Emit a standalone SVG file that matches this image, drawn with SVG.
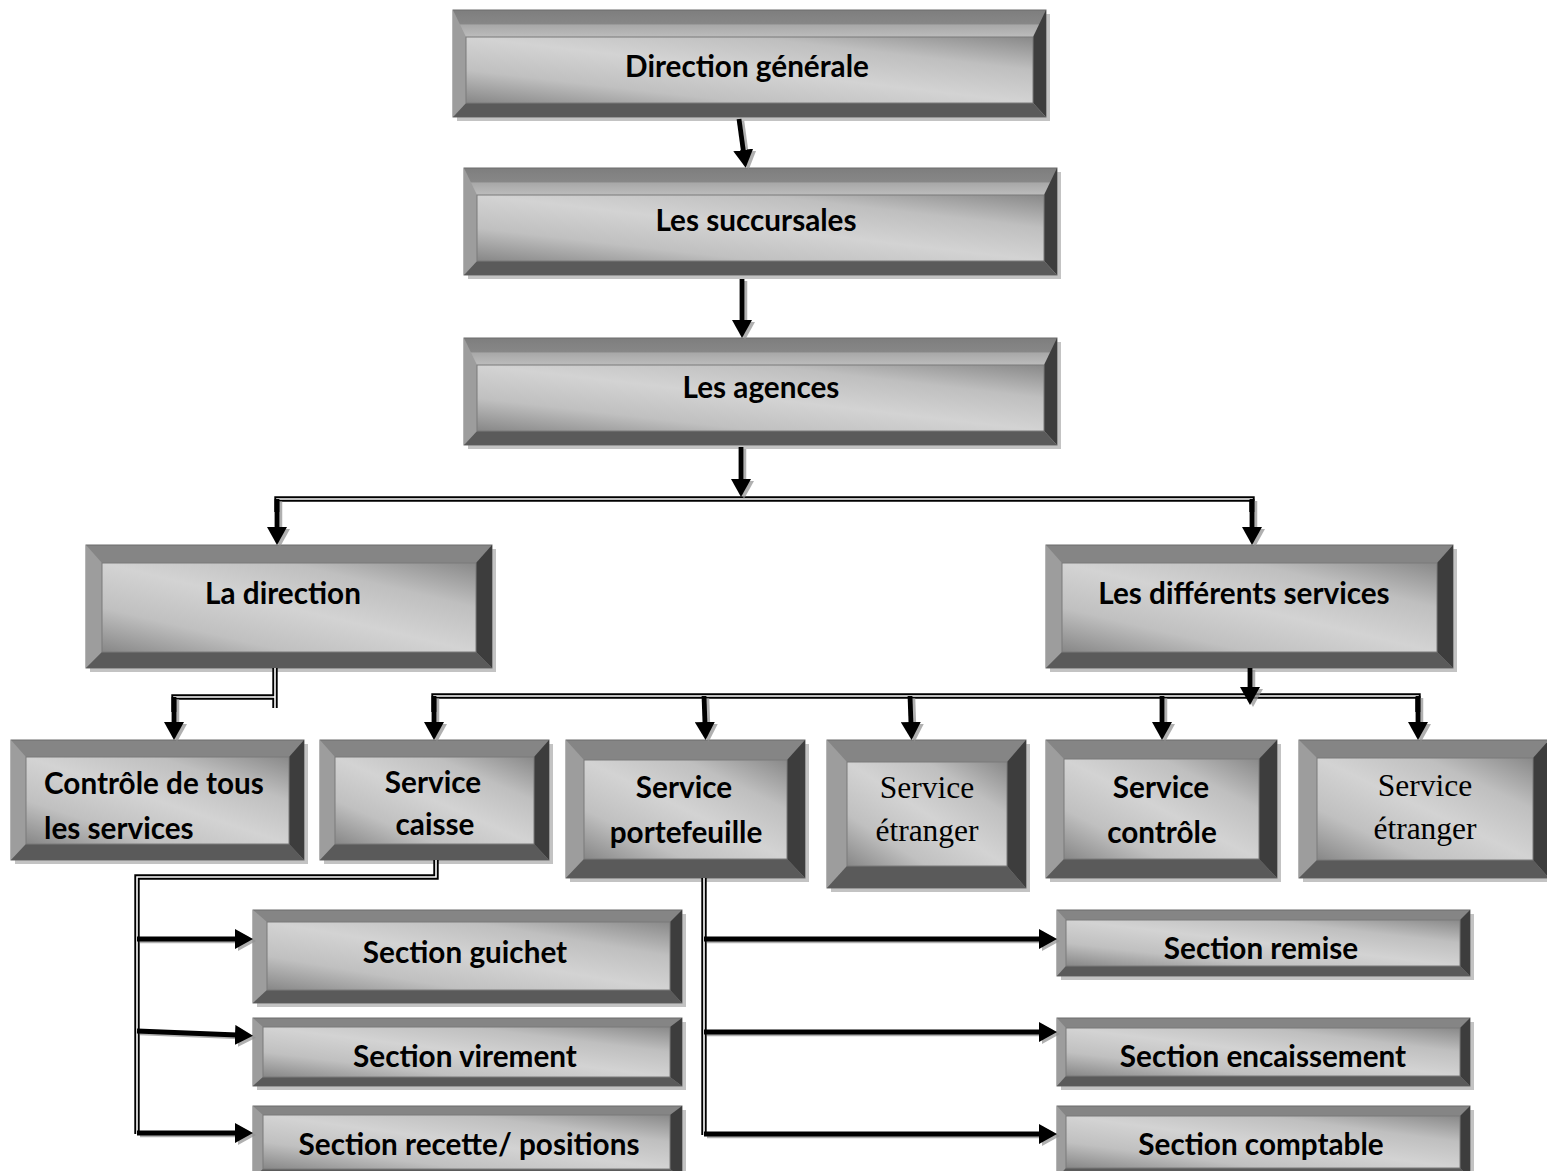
<svg xmlns="http://www.w3.org/2000/svg" xmlns:xlink="http://www.w3.org/1999/xlink" width="1547" height="1171" viewBox="0 0 1547 1171">
  <defs>
    <!-- face shading: dark at bottom-left and top-right corners, light across the middle -->
    <linearGradient id="faceGrad" x1="0" y1="1" x2="1" y2="0">
      <stop offset="0" stop-color="#878787"/>
      <stop offset="0.25" stop-color="#c0c0c0"/>
      <stop offset="0.5" stop-color="#d3d3d3"/>
      <stop offset="0.75" stop-color="#bfbfbf"/>
      <stop offset="1" stop-color="#898989"/>
    </linearGradient>
    <!-- top bevel with a lighter inner strip (tall header boxes) -->
    <linearGradient id="topGrad" x1="0" y1="0" x2="0" y2="1">
      <stop offset="0" stop-color="#7e7e7e"/>
      <stop offset="0.13" stop-color="#878787"/>
      <stop offset="0.14" stop-color="#a8a8a8"/>
      <stop offset="0.25" stop-color="#bcbcbc"/>
      <stop offset="1" stop-color="#bcbcbc"/>
    </linearGradient>
    <marker id="head" markerUnits="userSpaceOnUse" viewBox="0 0 18 20" markerWidth="18" markerHeight="20" refX="2" refY="10" orient="auto">
      <path d="M0,0 L18,10 L0,20 z" fill="#000"/>
    </marker>
    <marker id="headSh" markerUnits="userSpaceOnUse" viewBox="0 0 18 20" markerWidth="18" markerHeight="20" refX="2" refY="10" orient="auto">
      <path d="M0,0 L18,10 L0,20 z" fill="#8f8f8f"/>
    </marker>
    <style>
      .sh{fill:#c3c3c3}
      .base{fill:#858585;stroke:#6c6c6c;stroke-width:1}
      .baseT{fill:url(#topGrad);stroke:#6c6c6c;stroke-width:1}
      .bl{fill:#9d9d9d}
      .br{fill:#3d3d3d}
      .bb{fill:#5a5a5a}
      .face{fill:url(#faceGrad);stroke:#7a7a7a;stroke-width:1}
      .lbl{font-family:Lato,"Liberation Sans",sans-serif;font-weight:700;font-size:29.7px;fill:#000;text-anchor:middle}
      .lblL{font-family:Lato,"Liberation Sans",sans-serif;font-weight:700;font-size:29.7px;fill:#000}
      .ser{font-family:"Liberation Serif",serif;font-size:31.5px;fill:#000;text-anchor:middle}
      .dblO{fill:none;stroke:#000;stroke-width:5.4}
      .dblI{fill:none;stroke:#fff;stroke-width:1.6}
      .shaft{fill:none;stroke:#000;stroke-width:4.8;marker-end:url(#head)}
      .shaftS{fill:none;stroke:#8f8f8f;stroke-width:4.5;marker-end:url(#headSh);opacity:0.7}
    </style>
  </defs>

  <rect width="1547" height="1171" fill="#fff"/>

  <!-- nodes -->
  <g id="n-direction-generale">
    <rect class="sh" x="457" y="14" width="593" height="107"/>
    <rect class="baseT" x="453" y="10" width="593" height="107"/>
    <polygon class="bl" points="453,10 466,37 466,103 453,117"/>
    <polygon class="br" points="1046,10 1046,117 1033,103 1033,37"/>
    <polygon class="bb" points="453,117 466,103 1033,103 1046,117"/>
    <rect class="face" x="466" y="37" width="567" height="66"/>
    <text class="lbl" x="747" y="77">Direction générale</text>
  </g>

  <g id="n-succursales">
    <rect class="sh" x="468" y="172" width="593" height="107"/>
    <rect class="baseT" x="464" y="168" width="593" height="107"/>
    <polygon class="bl" points="464,168 477,195 477,261 464,275"/>
    <polygon class="br" points="1057,168 1057,275 1044,261 1044,195"/>
    <polygon class="bb" points="464,275 477,261 1044,261 1057,275"/>
    <rect class="face" x="477" y="195" width="567" height="66"/>
    <text class="lbl" x="756" y="231">Les succursales</text>
  </g>

  <g id="n-agences">
    <rect class="sh" x="468" y="342" width="593" height="107"/>
    <rect class="baseT" x="464" y="338" width="593" height="107"/>
    <polygon class="bl" points="464,338 477,365 477,431 464,445"/>
    <polygon class="br" points="1057,338 1057,445 1044,431 1044,365"/>
    <polygon class="bb" points="464,445 477,431 1044,431 1057,445"/>
    <rect class="face" x="477" y="365" width="567" height="66"/>
    <text class="lbl" x="761" y="398">Les agences</text>
  </g>

  <g id="n-la-direction">
    <rect class="sh" x="90" y="549" width="406" height="123"/>
    <rect class="base" x="86" y="545" width="406" height="123"/>
    <polygon class="bl" points="86,545 102,563 102,652 86,668"/>
    <polygon class="br" points="492,545 492,668 476,652 476,563"/>
    <polygon class="bb" points="86,668 102,652 476,652 492,668"/>
    <rect class="face" x="102" y="563" width="374" height="89"/>
    <text class="lbl" x="283" y="604">La direction</text>
  </g>

  <g id="n-differents-services">
    <rect class="sh" x="1050" y="549" width="407" height="123"/>
    <rect class="base" x="1046" y="545" width="407" height="123"/>
    <polygon class="bl" points="1046,545 1062,563 1062,652 1046,668"/>
    <polygon class="br" points="1453,545 1453,668 1437,652 1437,563"/>
    <polygon class="bb" points="1046,668 1062,652 1437,652 1453,668"/>
    <rect class="face" x="1062" y="563" width="375" height="89"/>
    <text class="lbl" x="1244" y="604">Les différents services</text>
  </g>

  <g id="n-controle-tous">
    <rect class="sh" x="15" y="744" width="293" height="120"/>
    <rect class="base" x="11" y="740" width="293" height="120"/>
    <polygon class="bl" points="11,740 26,757 26,844 11,860"/>
    <polygon class="br" points="304,740 304,860 289,844 289,757"/>
    <polygon class="bb" points="11,860 26,844 289,844 304,860"/>
    <rect class="face" x="26" y="757" width="263" height="87"/>
    <text class="lblL" x="44" y="794">Contrôle de tous</text>
    <text class="lblL" x="44" y="839">les services</text>
  </g>

  <g id="n-service-caisse">
    <rect class="sh" x="324" y="744" width="229" height="120"/>
    <rect class="base" x="320" y="740" width="229" height="120"/>
    <polygon class="bl" points="320,740 335,757 335,844 320,860"/>
    <polygon class="br" points="549,740 549,860 534,844 534,757"/>
    <polygon class="bb" points="320,860 335,844 534,844 549,860"/>
    <rect class="face" x="335" y="757" width="199" height="87"/>
    <text class="lbl" x="433" y="793">Service</text>
    <text class="lbl" x="435" y="835">caisse</text>
  </g>

  <g id="n-service-portefeuille">
    <rect class="sh" x="570" y="744" width="239" height="138"/>
    <rect class="base" x="566" y="740" width="239" height="138"/>
    <polygon class="bl" points="566,740 584,760 584,859 566,878"/>
    <polygon class="br" points="805,740 805,878 787,859 787,760"/>
    <polygon class="bb" points="566,878 584,859 787,859 805,878"/>
    <rect class="face" x="584" y="760" width="203" height="99"/>
    <text class="lbl" x="684" y="798">Service</text>
    <text class="lbl" x="686" y="843">portefeuille</text>
  </g>

  <g id="n-service-etranger-1">
    <rect class="sh" x="831" y="744" width="199" height="148"/>
    <rect class="base" x="827" y="740" width="199" height="148"/>
    <polygon class="bl" points="827,740 847,762 847,866 827,888"/>
    <polygon class="br" points="1026,740 1026,888 1007,866 1007,762"/>
    <polygon class="bb" points="827,888 847,866 1007,866 1026,888"/>
    <rect class="face" x="847" y="762" width="160" height="104"/>
    <text class="ser" x="927" y="798">Service</text>
    <text class="ser" x="927" y="841">étranger</text>
  </g>

  <g id="n-service-controle">
    <rect class="sh" x="1050" y="744" width="231" height="138"/>
    <rect class="base" x="1046" y="740" width="231" height="138"/>
    <polygon class="bl" points="1046,740 1064,759 1064,859 1046,878"/>
    <polygon class="br" points="1277,740 1277,878 1259,859 1259,759"/>
    <polygon class="bb" points="1046,878 1064,859 1259,859 1277,878"/>
    <rect class="face" x="1064" y="759" width="195" height="100"/>
    <text class="lbl" x="1161" y="798">Service</text>
    <text class="lbl" x="1162" y="843">contrôle</text>
  </g>

  <g id="n-service-etranger-2">
    <rect class="sh" x="1303" y="744" width="250" height="138"/>
    <rect class="base" x="1299" y="740" width="250" height="138"/>
    <polygon class="bl" points="1299,740 1317,758 1317,860 1299,878"/>
    <polygon class="br" points="1549,740 1549,878 1533,860 1533,758"/>
    <polygon class="bb" points="1299,878 1317,860 1533,860 1549,878"/>
    <rect class="face" x="1317" y="758" width="216" height="102"/>
    <text class="ser" x="1425" y="796">Service</text>
    <text class="ser" x="1425" y="839">étranger</text>
  </g>

  <g id="n-section-guichet">
    <rect class="sh" x="257" y="914" width="429" height="93"/>
    <rect class="base" x="253" y="910" width="429" height="93"/>
    <polygon class="bl" points="253,910 267,922 267,990 253,1003"/>
    <polygon class="br" points="682,910 682,1003 670,990 670,922"/>
    <polygon class="bb" points="253,1003 267,990 670,990 682,1003"/>
    <rect class="face" x="267" y="922" width="403" height="68"/>
    <text class="lbl" x="465" y="963">Section guichet</text>
  </g>

  <g id="n-section-virement">
    <rect class="sh" x="257" y="1022" width="429" height="68"/>
    <rect class="base" x="253" y="1018" width="429" height="68"/>
    <polygon class="bl" points="253,1018 263,1027 263,1077 253,1086"/>
    <polygon class="br" points="682,1018 682,1086 670,1077 670,1027"/>
    <polygon class="bb" points="253,1086 263,1077 670,1077 682,1086"/>
    <rect class="face" x="263" y="1027" width="407" height="50"/>
    <text class="lbl" x="465" y="1067">Section virement</text>
  </g>

  <g id="n-section-recette">
    <rect class="sh" x="257" y="1110" width="429" height="72"/>
    <rect class="base" x="253" y="1106" width="429" height="72"/>
    <polygon class="bl" points="253,1106 263,1115 263,1169 253,1178"/>
    <polygon class="br" points="682,1106 682,1178 670,1169 670,1115"/>
    <polygon class="bb" points="253,1178 263,1169 670,1169 682,1178"/>
    <rect class="face" x="263" y="1115" width="407" height="54"/>
    <text class="lbl" x="469" y="1155">Section recette/ positions</text>
  </g>

  <g id="n-section-remise">
    <rect class="sh" x="1061" y="914" width="413" height="66"/>
    <rect class="base" x="1057" y="910" width="413" height="66"/>
    <polygon class="bl" points="1057,910 1066,920 1066,966 1057,976"/>
    <polygon class="br" points="1470,910 1470,976 1460,966 1460,920"/>
    <polygon class="bb" points="1057,976 1066,966 1460,966 1470,976"/>
    <rect class="face" x="1066" y="920" width="394" height="46"/>
    <text class="lbl" x="1261" y="959">Section remise</text>
  </g>

  <g id="n-section-encaissement">
    <rect class="sh" x="1061" y="1022" width="413" height="68"/>
    <rect class="base" x="1057" y="1018" width="413" height="68"/>
    <polygon class="bl" points="1057,1018 1066,1028 1066,1076 1057,1086"/>
    <polygon class="br" points="1470,1018 1470,1086 1460,1076 1460,1028"/>
    <polygon class="bb" points="1057,1086 1066,1076 1460,1076 1470,1086"/>
    <rect class="face" x="1066" y="1028" width="394" height="48"/>
    <text class="lbl" x="1263" y="1067">Section encaissement</text>
  </g>

  <g id="n-section-comptable">
    <rect class="sh" x="1061" y="1110" width="413" height="70"/>
    <rect class="base" x="1057" y="1106" width="413" height="72"/>
    <polygon class="bl" points="1057,1106 1066,1116 1066,1168 1057,1178"/>
    <polygon class="br" points="1470,1106 1470,1178 1460,1168 1460,1116"/>
    <polygon class="bb" points="1057,1178 1066,1168 1460,1168 1470,1178"/>
    <rect class="face" x="1066" y="1116" width="394" height="52"/>
    <text class="lbl" x="1261" y="1155">Section comptable</text>
  </g>

  <!-- connectors -->
  <g id="connectors">
    <!-- double-ruled branch lines -->
    <g id="dbl-paths" class="dblO">
      <path id="d1" d="M277,512 L277,499 L1252,499 L1252,512"/>
      <path id="d2" d="M434,712 L434,696 L1418,696 L1418,712"/>
      <path id="d3" d="M275,668 L275,708"/>
      <path id="d4" d="M275,697 L174,697 L174,712"/>
      <path id="d5" d="M436,860 L436,877 L137,877 L137,1134"/>
      <path id="d6" d="M704,878 L704,1135"/>
    </g>
    <g class="dblI">
      <use xlink:href="#d1"/>
      <use xlink:href="#d2"/>
      <use xlink:href="#d3"/>
      <use xlink:href="#d4"/>
      <use xlink:href="#d5"/>
      <use xlink:href="#d6"/>
    </g>

    <!-- arrow shadows -->
    <g class="shaftS" transform="translate(3,2)">
      <path d="M739,119 L743.5,152"/>
      <path d="M742,279 L742,322"/>
      <path d="M741,447 L741,481"/>
      <path d="M277,499 L277,529"/>
      <path d="M1252,499 L1252,529"/>
      <path d="M1250,668 L1250,689"/>
      <path d="M174,697 L174,724"/>
      <path d="M434,696 L434,724"/>
      <path d="M704,696 L705,724"/>
      <path d="M910,696 L911,724"/>
      <path d="M1162,696 L1162,724"/>
      <path d="M1418,696 L1418,724"/>
      <path d="M137,939 L237,939"/>
      <path d="M137,1031 L237,1035"/>
      <path d="M137,1133 L237,1133"/>
      <path d="M704,939 L1041,939"/>
      <path d="M704,1032 L1041,1032"/>
      <path d="M704,1134 L1041,1134"/>
    </g>

    <!-- arrows -->
    <g class="shaft">
      <path d="M739,119 L743.5,152"/>
      <path d="M742,279 L742,322"/>
      <path d="M741,447 L741,481"/>
      <path d="M277,499 L277,529"/>
      <path d="M1252,499 L1252,529"/>
      <path d="M1250,668 L1250,689"/>
      <path d="M174,697 L174,724"/>
      <path d="M434,696 L434,724"/>
      <path d="M704,696 L705,724"/>
      <path d="M910,696 L911,724"/>
      <path d="M1162,696 L1162,724"/>
      <path d="M1418,696 L1418,724"/>
      <path d="M137,939 L237,939"/>
      <path d="M137,1031 L237,1035"/>
      <path d="M137,1133 L237,1133"/>
      <path d="M704,939 L1041,939"/>
      <path d="M704,1032 L1041,1032"/>
      <path d="M704,1134 L1041,1134"/>
    </g>
  </g>
</svg>
